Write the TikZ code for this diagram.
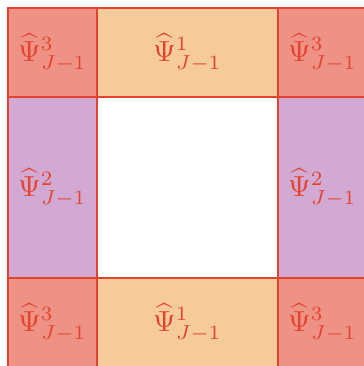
\documentclass[tikz,border=0pt]{standalone}
\usepackage{tikz}
\usetikzlibrary{positioning}

\definecolor{cellred}{HTML}{EE9285}
\definecolor{cellorange}{HTML}{F6CB9B}
\definecolor{cellpurple}{HTML}{D2A9D2}
\definecolor{edgered}{HTML}{E5432E}

\begin{document}
\begin{tikzpicture}[x=0.0121cm,y=-0.0121cm,
 cell/.style={draw=edgered,line width=0.7pt,minimum width=89*0.0121cm,minimum height=89*0.0121cm,inner sep=0pt,text=edgered,font=\normalsize},
 corner/.style={cell,fill=cellred},
 side/.style={cell,fill=cellorange},
 upright/.style={cell,fill=cellpurple,minimum height=181*0.0121cm},
 mid/.style={draw=edgered,line width=0.7pt,fill=white,minimum width=181*0.0121cm,minimum height=181*0.0121cm}]
\useasboundingbox (0,0) rectangle (364,366);
\clip (0,0) rectangle (364,366);
\node[mid] (c) at (187.5,187.5) {};
\node[corner] (tl) at (52.5,52.5) {$\widehat{\Psi}^3_{J-1}$};
\node[side,minimum width=181*0.0121cm] (t) at (187.5,52.5) {$\widehat{\Psi}^1_{J-1}$};
\node[corner] (tr) at (322.5,52.5) {$\widehat{\Psi}^3_{J-1}$};
\node[upright] (l) at (52.5,187.5) {$\widehat{\Psi}^2_{J-1}$};
\node[upright] (r) at (322.5,187.5) {$\widehat{\Psi}^2_{J-1}$};
\node[corner] (bl) at (52.5,322.5) {$\widehat{\Psi}^3_{J-1}$};
\node[side,minimum width=181*0.0121cm] (b) at (187.5,322.5) {$\widehat{\Psi}^1_{J-1}$};
\node[corner] (br) at (322.5,322.5) {$\widehat{\Psi}^3_{J-1}$};
\end{tikzpicture}
\end{document}
